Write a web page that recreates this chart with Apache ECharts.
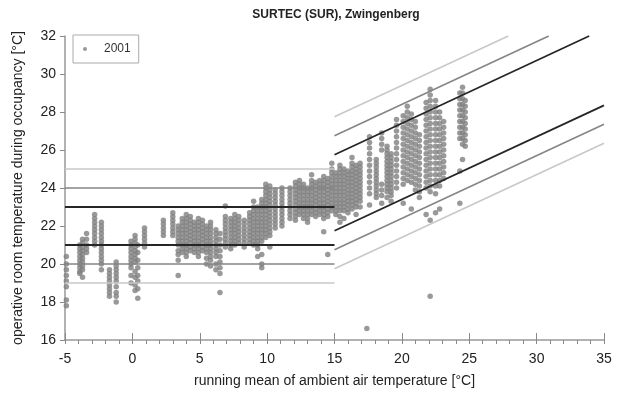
<!DOCTYPE html>
<html><head><meta charset="utf-8">
<script src="https://cdn.jsdelivr.net/npm/echarts@6/dist/echarts.min.js"></script>
<style>html,body{margin:0;padding:0;background:#fff}#c{width:618px;height:401px}</style>
</head><body><div id="c"></div>
<script>
// ---- data ----
const runningMean = [-4.9,-3.9,-3.7,-3.4,-2.8,-2.3,-1.7,-1.2,-0.1,0.2,0.4,0.9,
 2.3,3.0,3.4,3.7,4.0,4.3,4.6,4.9,5.2,5.5,5.8,6.2,6.5,6.9,7.3,7.6,7.9,8.3,8.7,9.0,9.3,9.6,9.9,10.2,
 10.6,11.1,11.7,12.1,12.4,12.7,13.0,13.3,13.6,13.9,14.2,14.5,14.8,15.1,
 15.4,15.7,16.0,16.3,16.6,16.9,17.6,18.1,18.5,18.9,19.2,19.6,
 20.1,20.4,20.7,21.0,21.3,21.8,22.1,22.5,22.8,23.1,24.3,24.5,24.7,17.4];
const roomTemp = [
 [20.4,20.0,19.7,19.4,19.1,18.8,18.1,17.8],
 [21.0,20.8,20.6,20.4,20.2,20.0,19.8,19.6,19.5],
 [21.3,21.1,20.9,20.7,20.5,20.3,20.1,19.9,19.7,19.3],
 [21.6,21.3,21.0,20.8,20.6],
 [22.6,22.4,22.2,22.0,21.8,21.6,21.4,21.2,21.0],
 [22.2,22.0,21.8,21.6,21.4,21.2,21.0,20.8,20.6,20.4,20.2,20.0,19.7],
 [19.7,19.5,19.3,19.1,18.9,18.7,18.5,18.3],
 [20.1,19.9,19.7,19.5,19.3,19.1,18.8,18.5,18.3,18.0],
 [21.2,21.0,20.8,20.6,20.4,20.2,20.0,19.8,19.4,19.0],
 [21.5,21.3,21.1,20.9,20.7,20.5,20.3,20.1,19.6,19.3,18.9,18.6],
 [21.0,20.6,20.2,19.8,19.4,19.1,18.7,18.2],
 [21.9,21.7,21.5,21.3,21.1,20.9],
 [22.3,22.1,21.9,21.7,21.5],
 [22.7,22.5,22.3,22.1,21.9,21.7,21.5],
 [22.0,21.8,21.6,21.4,21.2,21.0,20.7,20.5,20.2,19.4],
 [22.4,22.2,22.0,21.8,21.6,21.4,21.2,21.0,20.8,20.6],
 [22.6,22.4,22.2,22.0,21.8,21.6,21.4,21.2,21.0,20.8,20.6,20.4],
 [22.5,22.3,22.1,21.9,21.7,21.5,21.3,21.1,20.9,20.7],
 [22.2,22.0,21.8,21.6,21.4,21.2,21.0,20.8,20.6],
 [22.4,22.2,22.0,21.8,21.6,21.4,21.2,21.0,20.8,20.6,20.4],
 [22.3,22.1,21.9,21.7,21.5,21.3,21.1,20.9,20.7],
 [22.0,21.8,21.6,21.4,21.2,21.0,20.8,20.6,20.3,20.0],
 [22.2,22.0,21.8,21.6,21.4,21.2,21.0,20.8,20.6,20.4,20.2,19.9],
 [21.8,21.6,21.4,21.2,21.0,20.8,20.6,20.4,20.0,19.7],
 [21.6,21.3,21.0,20.7,20.4,20.1,19.8,19.5,18.5],
 [23.05,22.5,22.3,22.1,21.9,21.7,21.5,21.3,21.1,20.9],
 [22.4,22.2,22.0,21.8,21.6,21.4,21.2,21.0,20.8],
 [22.6,22.4,22.2,22.0,21.8,21.6,21.4,21.2,21.0],
 [22.5,22.3,22.1,21.9,21.7,21.5,21.3,21.1],
 [22.3,22.1,21.9,21.7,21.5,21.3,21.1,20.9],
 [22.7,22.5,22.3,22.1,21.9,21.7,21.5,21.3,21.1],
 [23.3,23.0,22.8,22.6,22.4,22.2,22.0,21.8,21.6,21.4,21.2,21.0],
 [23.0,22.8,22.6,22.4,22.2,22.0,21.8,21.6,21.4,21.2,21.0,20.8,20.4],
 [23.4,23.2,23.0,22.8,22.6,22.4,22.2,22.0,21.8,21.6,21.4,21.2,20.5,20.0,19.8],
 [24.2,24.0,23.8,23.6,23.4,23.2,23.0,22.8,22.6,22.4,22.2,22.0,21.8,21.6,21.4],
 [24.1,23.9,23.7,23.5,23.3,23.1,22.9,22.7,22.5,22.3,22.1,21.9,21.7,21.5,20.9],
 [23.9,23.7,23.5,23.3,23.1,22.9,22.7,22.5,22.3,22.1,21.9],
 [24.0,23.8,23.6,23.4,23.2,23.0,22.8,22.6,22.4,22.2,22.0],
 [24.0,23.8,23.6,23.4,23.2,23.0,22.8,22.6,22.4],
 [24.3,24.1,23.9,23.7,23.5,23.3,23.1,22.9,22.7,22.5,22.3],
 [24.4,24.2,24.0,23.8,23.6,23.4,23.2,23.0,22.8,22.6],
 [24.2,24.0,23.8,23.6,23.4,23.2,23.0,22.8,22.6,22.4],
 [24.0,23.8,23.6,23.4,23.2,23.0,22.8,22.6,22.4,22.2],
 [24.7,24.4,24.2,24.0,23.8,23.6,23.4,23.2,23.0,22.8,22.6],
 [24.3,24.1,23.9,23.7,23.5,23.3,23.1,22.9,22.7,22.5],
 [24.4,24.2,24.0,23.8,23.6,23.4,23.2,23.0,22.8,22.6],
 [24.6,24.4,24.2,24.0,23.8,23.6,23.4,23.2,23.0,22.8,22.6,22.4,21.7],
 [24.5,24.3,24.1,23.9,23.7,23.5,23.3,23.1,22.9,22.7,22.5,20.5],
 [25.3,25.0,24.8,24.6,24.4,24.2,24.0,23.8,23.6,23.4,23.2,23.0,22.8],
 [24.8,24.6,24.4,24.2,24.0,23.8,23.6,23.4,23.2,23.0,22.8,22.6],
 [25.2,25.0,24.8,24.6,24.4,24.2,24.0,23.8,23.6,23.4,23.2,23.0,22.8,22.5,22.2],
 [25.0,24.8,24.6,24.4,24.2,24.0,23.8,23.6,23.4,23.2,23.0,22.8,22.4],
 [24.9,24.7,24.5,24.3,24.1,23.9,23.7,23.5,23.3,23.1,22.9,22.7],
 [25.6,25.3,25.1,24.9,24.7,24.5,24.3,24.1,23.9,23.7,23.5,23.3,23.1,22.9],
 [25.2,25.0,24.8,24.6,24.4,24.2,24.0,23.8,23.6,23.4,23.2,23.0,22.6],
 [25.3,25.1,24.9,24.7,24.5,24.3,24.1,23.9,23.7,23.5,23.3,23.0],
 [26.7,26.4,26.1,25.8,25.5,25.2,24.9,24.6,24.3,24.0,23.7,23.1],
 [25.5,25.3,25.1,24.9,24.7,24.5,24.3,24.1,23.9,23.7,23.5],
 [26.9,26.6,26.3,26.0,24.2,23.9,23.6,23.2],
 [26.2,26.0,25.8,25.6,25.4,25.2,25.0,24.8,24.6,24.4,24.2,24.0,23.8,23.5],
 [25.8,25.6,25.4,25.2,25.0,24.8,24.6,24.4,24.2,24.0,23.8,23.6,23.3],
 [27.6,27.3,27.0,26.7,26.4,26.1,25.8,25.5,25.2,24.9,24.6,24.3,24.0],
 [27.8,27.5,27.2,26.9,26.6,26.3,26.0,25.7,25.4,25.1,24.8,24.5,24.2,23.2],
 [28.3,28.0,27.7,27.4,27.1,26.8,26.5,26.2,25.9,25.6,25.3,25.0,24.7,24.4],
 [27.9,27.6,27.3,27.0,26.7,26.4,26.1,25.8,25.5,25.2,24.9,24.6,24.3,22.9],
 [27.5,27.2,26.9,26.6,26.3,26.0,25.7,25.4,25.1,24.8,24.5,24.2,23.9],
 [26.8,26.5,26.2,25.9,25.6,25.3,25.0,24.7,24.4,24.1,23.8,23.5],
 [28.5,28.2,27.9,27.6,27.3,27.0,26.7,26.4,26.1,25.8,25.5,25.2,24.9,24.6,24.3,24.0,22.6],
 [29.2,28.9,28.6,28.3,28.0,27.7,27.4,27.1,26.8,26.5,26.2,25.9,25.6,25.3,25.0,24.7,24.4,24.1,23.8,22.3,18.3],
 [28.6,28.3,28.0,27.7,27.4,27.1,26.8,26.5,26.2,25.9,25.6,25.3,25.0,24.7,24.4,24.1,23.7,22.7],
 [28.0,27.7,27.4,27.1,26.8,26.5,26.2,25.9,25.6,25.3,25.0,24.7,24.4,24.1,22.9],
 [27.5,27.2,26.9,26.6,26.3,26.0,25.7,25.4,25.1,24.8,24.5],
 [29.0,28.7,28.4,28.1,27.8,27.5,27.2,26.9,26.6,24.9,23.2],
 [29.3,29.0,28.7,28.4,28.1,27.8,27.5,27.2,26.9,26.6,26.3,25.5],
 [28.6,28.3,28.0,27.7,27.4,27.1,26.8,26.5,26.2],
 [16.6]
];
// comfort band lines: [x0, y0, x1, y1]
const bandLines = [
 [-5,25,15,25],[-5,24,15,24],[-5,23,15,23],[-5,21,15,21],[-5,20,15,20],[-5,19,15,19],
 [15,27.75,27.9,32],[15,26.75,30.9,32],[15,25.75,33.9,32],
 [15,21.75,35,28.35],[15,20.75,35,27.35],[15,19.75,35,26.35]
];
const bandKinds = ['light','mid','dark','dark','mid','light','light','mid','dark','dark','mid','light'];
const xTicks = [-5,0,5,10,15,20,25,30,35];
const yTicks = [16,18,20,22,24,26,28,30,32];

// ---- build ----
const pts = [];
runningMean.forEach((x,i)=>roomTemp[i].forEach(y=>pts.push([x,y])));
const lineStyleFor = {light:{color:'#c8c8c8',width:1.6}, mid:{color:'#858585',width:1.6}, dark:{color:'#262626',width:1.8}};
const lineSeries = bandLines.map((l,i)=>({
  type:'line', data:[[l[0],l[1]],[l[2],l[3]]], symbol:'none', silent:true,
  lineStyle:lineStyleFor[bandKinds[i]], z:3, xAxisIndex:0, yAxisIndex:0
}));
const font = 'Liberation Sans, Arial, sans-serif';
const tickColor = '#8a8a8a';
const chart = echarts.init(document.getElementById('c'), null, {renderer:'canvas'});
chart.setOption({
  animation:false,
  title:{text:'SURTEC (SUR), Zwingenberg', left:331, top:4, textAlign:'center',
    textStyle:{fontFamily:font,fontSize:12,fontWeight:'bold',color:'#222'}},
  legend:{data:['2001'], left:73, top:35, orient:'vertical', borderColor:'#aaa', borderWidth:1,
    padding:[8,8,8,10], itemWidth:4, itemHeight:4, itemGap:0,
    textStyle:{fontFamily:font,fontSize:12,color:'#333',padding:[0,0,0,12]}},
  grid:{left:65, right:14, top:36, bottom:61},
  xAxis:[{type:'value', min:-5, max:35, interval:5,
    name:'running mean of ambient air temperature [°C]', nameLocation:'middle', nameGap:34,
    nameTextStyle:{fontFamily:font,fontSize:14,color:'#222'},
    axisLine:{onZero:false,lineStyle:{color:'#999',width:1.5}},
    axisTick:{show:true,inside:true,length:7,lineStyle:{color:tickColor,width:1}},
    axisLabel:{fontFamily:font,fontSize:14,color:'#222',margin:12, formatter:v=>xTicks.includes(v)?String(v):''},
    splitLine:{show:false}},
   {type:'value', min:-5, max:35, interval:5, position:'bottom',
    axisLine:{show:false,onZero:false}, axisTick:{show:true,length:4,lineStyle:{color:tickColor,width:1}},
    axisLabel:{show:false}, splitLine:{show:false},
    minorTick:{show:true, splitNumber:5, length:4, lineStyle:{color:tickColor,width:1}}}],
  yAxis:{type:'value', min:16, max:32, interval:2,
    name:'operative room temperature during occupancy [°C]', nameLocation:'middle', nameGap:40,
    nameTextStyle:{fontFamily:font,fontSize:14,color:'#222'},
    axisLine:{show:true,onZero:false,lineStyle:{color:'#999',width:1.5}},
    axisTick:{show:true,length:5,lineStyle:{color:tickColor,width:1}},
    axisLabel:{fontFamily:font,fontSize:14,color:'#222',margin:9, formatter:v=>yTicks.includes(v)?String(v):''},
    splitLine:{show:false}},
  series:[{name:'2001', type:'scatter', data:pts, symbol:'circle', symbolSize:5.5,
    itemStyle:{color:'#808080'}, z:2, xAxisIndex:0, yAxisIndex:0}].concat(lineSeries)
});
</script></body></html>
